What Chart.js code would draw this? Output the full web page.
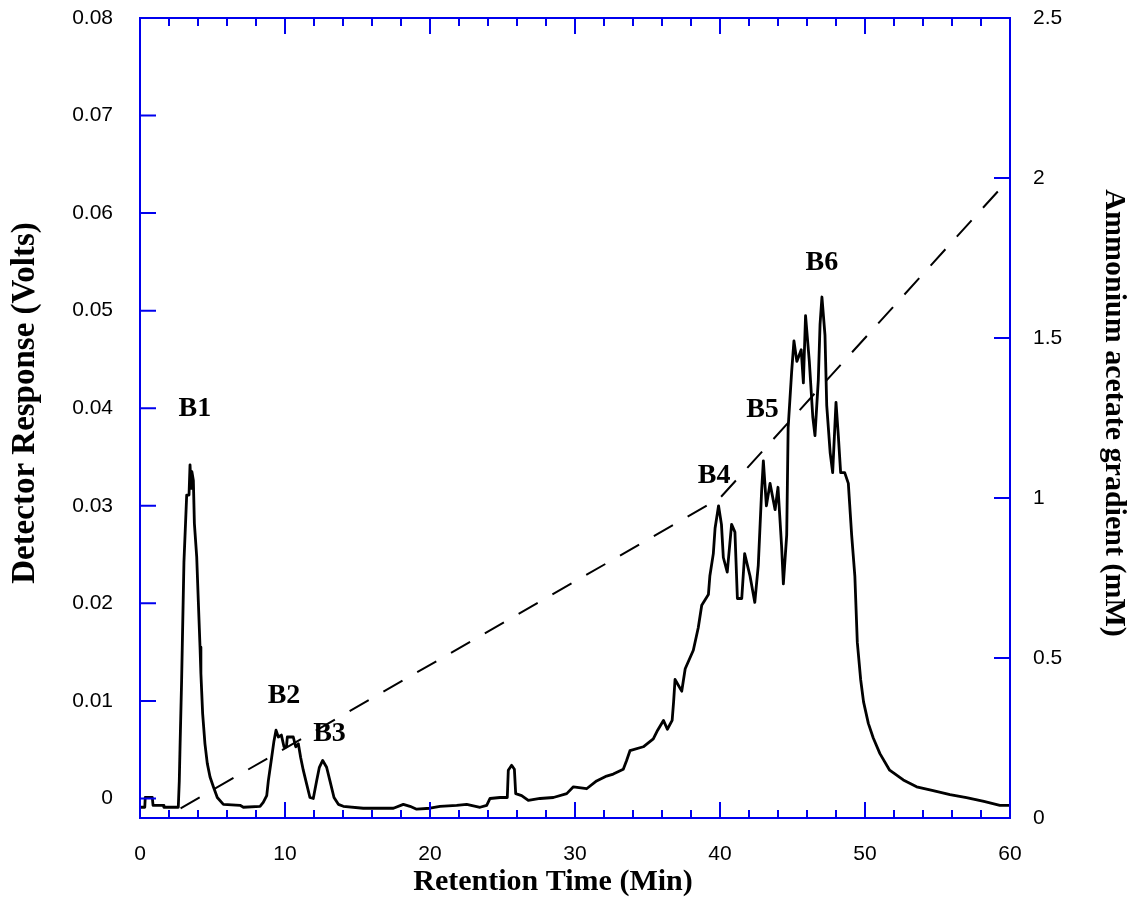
<!DOCTYPE html>
<html>
<head>
<meta charset="utf-8">
<title>Retention time chromatogram</title>
<script src="https://cdn.jsdelivr.net/npm/chart.js@4.4.1/dist/chart.umd.min.js"></script>
<style>
  html, body { margin: 0; padding: 0; background: #fff; }
  #chromChart { display: block; }
</style>
</head>
<body>
<canvas id="chromChart" width="1141" height="907"></canvas>
<script>
// detector trace (minutes, volts)
const traceTime = [0, 0.33, 0.36, 0.85, 0.9, 1.6, 1.65, 2.64, 2.71, 2.76, 2.87, 2.92, 3.03, 3.22, 3.38, 3.45, 3.52, 3.58, 3.68, 3.75,
  3.91, 4.02, 4.14, 4.2, 4.32, 4.48, 4.64, 4.83, 5.06, 5.33, 5.75, 6.9, 7.13, 8.28, 8.5, 8.74, 8.85, 9.08, 9.24, 9.38,
  9.54, 9.75, 9.93, 10.1, 10.16, 10.57, 10.74, 10.92, 11.08, 11.26, 11.49, 11.72, 11.95, 12.18, 12.37, 12.6, 12.87, 13.1, 13.38, 13.68,
  14.02, 15.4, 16.8, 17.48, 18.16, 18.62, 19.08, 20.0, 20.69, 21.84, 22.53, 23.45, 23.91, 24.14, 24.83, 25.33, 25.4, 25.63, 25.82, 25.91,
  26.32, 26.78, 27.59, 28.51, 29.43, 29.89, 30.8, 31.49, 32.18, 32.64, 33.33, 33.56, 33.79, 34.71, 35.4, 35.7, 36.1, 36.37, 36.7, 36.8,
  36.9, 37.36, 37.6, 38.16, 38.5, 38.74, 39.2, 39.3, 39.54, 39.66, 39.9, 40.1, 40.23, 40.5, 40.8, 41.03, 41.2, 41.5, 41.7, 42.07,
  42.4, 42.64, 42.87, 42.99, 43.2, 43.45, 43.8, 44.0, 44.25, 44.37, 44.6, 44.7, 44.94, 45.1, 45.3, 45.6, 45.75, 45.9, 46.16, 46.4,
  46.55, 46.78, 46.9, 47.03, 47.24, 47.36, 47.6, 47.77, 48.0, 48.16, 48.32, 48.6, 48.85, 49.08, 49.3, 49.47, 49.7, 49.9, 50.23, 50.57,
  51.03, 51.7, 52.64, 53.56, 54.7, 55.86, 57.0, 58.2, 59.3, 60.0];
const traceVolts = [-0.0009, -0.0009, 0.0001, 0.0001, -0.0007, -0.0007, -0.0009, -0.0009, 0.0018, 0.0052, 0.0121, 0.0159, 0.0242, 0.0311, 0.0311, 0.0342, 0.0318, 0.0335, 0.0326, 0.0282,
  0.0248, 0.0203, 0.0155, 0.0128, 0.0087, 0.0056, 0.0036, 0.0022, 0.0012, 0.0001, -0.0006, -0.0007, -0.0009, -0.0008, -0.0004, 0.0003, 0.0018, 0.0042, 0.0059, 0.007,
  0.0063, 0.0065, 0.0053, 0.0053, 0.0063, 0.0063, 0.0053, 0.0056, 0.0042, 0.0029, 0.0015, 0.0001, 0.0, 0.0018, 0.0032, 0.0039, 0.0032, 0.0018, 0.0001, -0.0006,
  -0.0008, -0.001, -0.001, -0.001, -0.0006, -0.0008, -0.0011, -0.001, -0.0008, -0.0007, -0.0006, -0.0009, -0.0007, 0.0, 0.0001, 0.0001, 0.0029, 0.0034, 0.003, 0.0005,
  0.0003, -0.0002, 0.0, 0.0001, 0.0005, 0.0012, 0.001, 0.0018, 0.0023, 0.0025, 0.003, 0.0039, 0.0049, 0.0053, 0.0061, 0.007, 0.008, 0.0071, 0.008, 0.0099,
  0.0122, 0.011, 0.0133, 0.0152, 0.0175, 0.0198, 0.0209, 0.0228, 0.0251, 0.0277, 0.030, 0.0281, 0.0247, 0.0232, 0.0281, 0.0273, 0.0205, 0.0205, 0.0251, 0.0228,
  0.0201, 0.0239, 0.0315, 0.0346, 0.030, 0.0323, 0.0296, 0.0319, 0.0258, 0.022, 0.027, 0.038, 0.0437, 0.0469, 0.0448, 0.046, 0.0426, 0.0495, 0.0448, 0.0391,
  0.0372, 0.0429, 0.0486, 0.0514, 0.0475, 0.0403, 0.0354, 0.0334, 0.0406, 0.0372, 0.0334, 0.0334, 0.0323, 0.027, 0.0228, 0.016, 0.0122, 0.0099, 0.0077, 0.0062,
  0.0046, 0.0029, 0.0019, 0.0012, 0.0008, 0.0004, 0.0001, -0.0003, -0.0007, -0.0007];

// ammonium acetate gradient (minutes, mM)
const gradTime = [2.8, 40, 60];
const gradMM = [0.03, 1.0, 2.0];

// peak names and where they sit
const peakNames = ['B1', 'B2', 'B3', 'B4', 'B5', 'B6'];
const peakTime = [3.79, 9.93, 13.07, 39.59, 42.93, 47.03];
const peakVolts = [0.0399, 0.0105, 0.0066, 0.0331, 0.0398, 0.0549];

const leftTicks = [0, 0.01, 0.02, 0.03, 0.04, 0.05, 0.06, 0.07, 0.08];
const rightTicks = [0, 0.5, 1, 1.5, 2, 2.5];

const axisBlue = '#0000ee';
const sansFont = "'Liberation Sans', Arial, sans-serif";
const serifFont = "'Liberation Serif', 'Times New Roman', serif";

const frameAndText = {
  id: 'frameAndText',
  afterDatasetsDraw(chart) {
    const {ctx, chartArea: a, scales} = chart;
    ctx.save();
    ctx.strokeStyle = axisBlue;
    ctx.lineWidth = 2;
    ctx.strokeRect(a.left, a.top, a.right - a.left, a.bottom - a.top);
    ctx.beginPath();
    for (let t = 0; t <= 60; t += 2) {
      const px = scales.x.getPixelForValue(t);
      const len = t % 10 === 0 ? 16 : 8;
      ctx.moveTo(px, a.bottom); ctx.lineTo(px, a.bottom - len);
      ctx.moveTo(px, a.top); ctx.lineTo(px, a.top + len);
    }
    leftTicks.forEach(v => {
      const py = scales.y.getPixelForValue(v);
      ctx.moveTo(a.left, py); ctx.lineTo(a.left + 16, py);
    });
    rightTicks.forEach(v => {
      const py = scales.y2.getPixelForValue(v);
      ctx.moveTo(a.right, py); ctx.lineTo(a.right - 16, py);
    });
    ctx.stroke();

    ctx.fillStyle = '#000';
    ctx.textAlign = 'center';
    ctx.textBaseline = 'middle';
    ctx.font = 'bold 28px ' + serifFont;
    peakNames.forEach((name, i) => {
      ctx.fillText(name, scales.x.getPixelForValue(peakTime[i]), scales.y.getPixelForValue(peakVolts[i]));
    });

    ctx.font = 'bold 30px ' + serifFont;
    ctx.fillText('Retention Time (Min)', 553, 882);

    ctx.save();
    ctx.translate(1114, 413);
    ctx.rotate(Math.PI / 2);
    ctx.fillText('Ammonium acetate gradient (mM)', 0, 0);
    ctx.restore();

    ctx.font = 'bold 33px ' + serifFont;
    ctx.save();
    ctx.translate(25, 403);
    ctx.rotate(-Math.PI / 2);
    ctx.fillText('Detector Response (Volts)', 0, 0);
    ctx.restore();
    ctx.restore();
  }
};

function noEdgePadding(scale) {
  scale.paddingTop = 0;
  scale.paddingBottom = 0;
}

new Chart(document.getElementById('chromChart'), {
  type: 'line',
  data: {
    datasets: [
      {
        label: 'Detector response',
        data: traceTime.map((t, i) => ({x: t, y: traceVolts[i]})),
        yAxisID: 'y',
        borderColor: '#000',
        borderWidth: 2.8,
        borderJoinStyle: 'round',
        pointRadius: 0,
        tension: 0
      },
      {
        label: 'Gradient',
        data: gradTime.map((t, i) => ({x: t, y: gradMM[i]})),
        yAxisID: 'y2',
        borderColor: '#000',
        borderWidth: 2,
        borderDash: [22, 17],
        pointRadius: 0,
        tension: 0
      }
    ]
  },
  options: {
    responsive: false,
    animation: false,
    layout: {padding: {top: 18, left: 0, right: 0, bottom: 0}},
    plugins: {
      legend: {display: false},
      tooltip: {enabled: false}
    },
    scales: {
      x: {
        type: 'linear',
        min: 0,
        max: 60,
        grid: {display: false, drawTicks: false},
        border: {display: false},
        ticks: {stepSize: 10, padding: 24, color: '#000', font: {family: sansFont, size: 21}},
        afterFit: (scale) => { scale.height = 89; }
      },
      y: {
        position: 'left',
        min: -0.002,
        max: 0.08,
        grid: {display: false, drawTicks: false},
        border: {display: false},
        afterBuildTicks: (scale) => { scale.ticks = leftTicks.map(v => ({value: v})); },
        ticks: {padding: 27, color: '#000', font: {family: sansFont, size: 21}, callback: (v) => String(v)},
        afterFit: (scale) => { scale.width = 140; noEdgePadding(scale); }
      },
      y2: {
        position: 'right',
        min: 0,
        max: 2.5,
        grid: {display: false, drawTicks: false},
        border: {display: false},
        afterBuildTicks: (scale) => { scale.ticks = rightTicks.map(v => ({value: v})); },
        ticks: {padding: 23, color: '#000', font: {family: sansFont, size: 21}, callback: (v) => String(v)},
        afterFit: (scale) => { scale.width = 131; noEdgePadding(scale); }
      }
    }
  },
  plugins: [frameAndText]
});
</script>
</body>
</html>
